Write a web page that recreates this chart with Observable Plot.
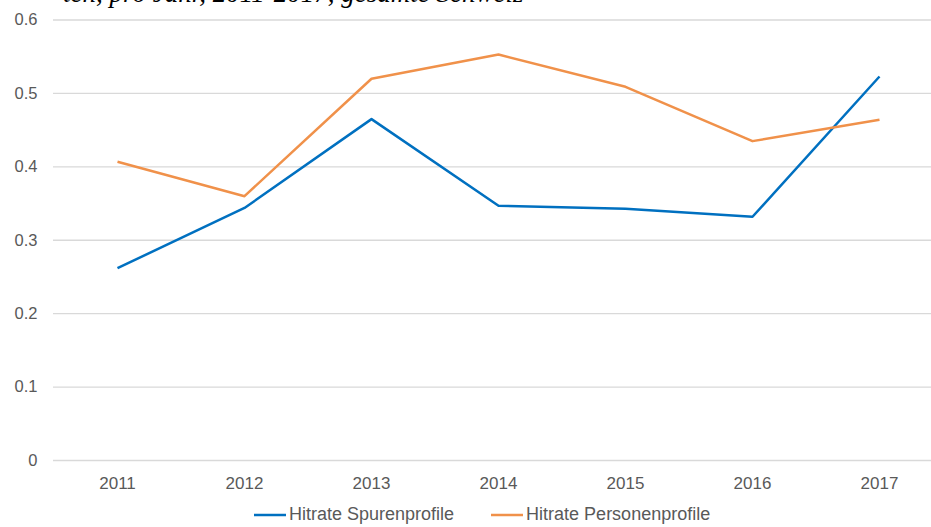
<!DOCTYPE html>
<html>
<head>
<meta charset="utf-8">
<script src="https://cdn.jsdelivr.net/npm/d3@7"></script>
<script src="https://cdn.jsdelivr.net/npm/@observablehq/plot@0.6"></script>
<style>
  html, body { margin: 0; padding: 0; background: #fff; overflow: hidden; }
  #wrap { position: relative; width: 931px; height: 527px; }
  #title { position: absolute; left: 63px; top: -20px; font-family: "Liberation Serif", serif; font-style: italic; font-size: 27px; color: #000; white-space: nowrap; line-height: 1; }
  #chart { position: absolute; left: 0; top: 0; }
  #legend { position: absolute; top: 504px; left: 254px; display: flex; gap: 37px; font-family: "Liberation Sans", Arial, sans-serif; font-size: 18px; color: #595959; }
  .item { display: flex; align-items: center; gap: 3px; }
</style>
</head>
<body>
<div id="wrap">
  <div id="chart"></div>
  <div id="title"></div>
  <div id="legend"></div>
</div>
<script>
const titleText = "ten, pro Jahr, 2011-2017, gesamte Schweiz";
const years = ["2011", "2012", "2013", "2014", "2015", "2016", "2017"];
const spuren = [0.262, 0.344, 0.465, 0.347, 0.343, 0.332, 0.523];
const personen = [0.407, 0.360, 0.520, 0.553, 0.509, 0.435, 0.464];
const seriesNames = ["Hitrate Spurenprofile", "Hitrate Personenprofile"];
const seriesColors = ["#0070C0", "#F0914A"];
const yTicks = [0, 0.1, 0.2, 0.3, 0.4, 0.5, 0.6];

document.getElementById("title").textContent = titleText;

const data = [];
years.forEach((y, i) => {
  data.push({year: y, value: spuren[i], series: seriesNames[0]});
  data.push({year: y, value: personen[i], series: seriesNames[1]});
});

const plot = Plot.plot({
  width: 931,
  height: 500,
  marginTop: 19.5,
  marginBottom: 40,
  marginLeft: 53,
  marginRight: 0,
  style: {fontFamily: "'Liberation Sans', Arial, sans-serif", color: "#595959", background: "transparent"},
  x: {type: "point", domain: years, range: [116.5, 880], padding: 0, label: null},
  y: {domain: [0, 0.6], label: null},
  color: {domain: seriesNames, range: seriesColors},
  marks: [
    Plot.ruleY(yTicks, {stroke: "#d9d9d9", strokeWidth: 1.3}),
    Plot.axisY(yTicks, {tickSize: 0, tickPadding: 16, fontSize: 16.5, tickFormat: d => String(d), label: null}),
    Plot.axisX({tickSize: 0, tickPadding: 16, fontSize: 17, label: null}),
    Plot.line(data, {x: "year", y: "value", stroke: "series", strokeWidth: 2.5, strokeLinejoin: "round", strokeLinecap: "butt"})
  ]
});
document.getElementById("chart").appendChild(plot);

const legend = document.getElementById("legend");
seriesNames.forEach((name, i) => {
  const item = document.createElement("div");
  item.className = "item";
  item.innerHTML = `<svg width="32" height="4"><line x1="0" y1="2" x2="32" y2="2" stroke="${seriesColors[i]}" stroke-width="2.5"/></svg><span>${name}</span>`;
  legend.appendChild(item);
});
</script>
</body>
</html>
